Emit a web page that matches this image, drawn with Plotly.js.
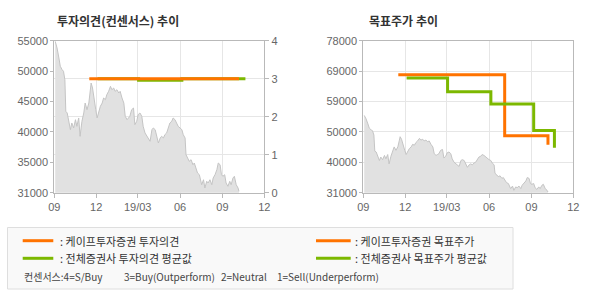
<!DOCTYPE html>
<html>
<head>
<meta charset="utf-8">
<script src="https://cdn.plot.ly/plotly-3.0.1.min.js"></script>
<style>
  html, body { margin: 0; padding: 0; background: #ffffff; }
  #chart { width: 590px; height: 300px; }
</style>
</head>
<body>
<div id="chart"></div>
<script>
// ---------------- DATA ----------------
const priceDates = [
  '2018-09-03','2018-09-07','2018-09-11','2018-09-14','2018-09-18','2018-09-21','2018-09-24','2018-09-26','2018-09-29',
  '2018-10-02','2018-10-06','2018-10-09','2018-10-13','2018-10-17','2018-10-20','2018-10-24','2018-10-27','2018-10-31',
  '2018-11-04','2018-11-07','2018-11-11','2018-11-15','2018-11-18','2018-11-20','2018-11-23','2018-11-27','2018-11-30',
  '2018-12-03','2018-12-06','2018-12-10','2018-12-14','2018-12-17','2018-12-21','2018-12-24','2018-12-28',
  '2019-01-01','2019-01-04','2019-01-08','2019-01-11','2019-01-15','2019-01-19','2019-01-22','2019-01-26','2019-01-30',
  '2019-02-02','2019-02-06','2019-02-09','2019-02-12','2019-02-16','2019-02-20','2019-02-23','2019-02-27',
  '2019-03-02','2019-03-06','2019-03-10','2019-03-13','2019-03-17','2019-03-21','2019-03-24','2019-03-28',
  '2019-04-01','2019-04-04','2019-04-08','2019-04-11','2019-04-15','2019-04-19','2019-04-22','2019-04-26','2019-04-29',
  '2019-05-03','2019-05-07','2019-05-10','2019-05-14','2019-05-17','2019-05-21','2019-05-25','2019-05-28',
  '2019-06-01','2019-06-05','2019-06-08','2019-06-12','2019-06-14','2019-06-18','2019-06-21','2019-06-25','2019-06-29',
  '2019-07-02','2019-07-06','2019-07-09','2019-07-13','2019-07-18','2019-07-22','2019-07-25','2019-07-29',
  '2019-08-01','2019-08-05','2019-08-09','2019-08-12','2019-08-16','2019-08-20','2019-08-23','2019-08-27','2019-08-30',
  '2019-09-02','2019-09-06','2019-09-09','2019-09-13','2019-09-17','2019-09-20','2019-09-24','2019-09-27',
  '2019-10-01','2019-10-05','2019-10-07'
];
const priceValues = [
  54900,53850,52270,50960,50420,50170,48840,43850,43590,
  42270,40950,42010,41220,42530,41480,42800,39900,42270,
  43590,45160,44110,45160,47010,48320,47530,45160,44110,
  42800,43590,44640,45160,45950,45690,46470,47010,
  47800,47260,47530,47010,47260,46740,47010,45950,45160,
  43060,42530,42800,43060,44110,44370,41740,42270,
  43320,43590,43060,41480,40430,39900,39640,39120,
  40950,41220,40950,40160,38850,39640,39900,39640,40160,
  40430,41480,42010,42270,42800,42530,42010,41480,
  41220,40950,40160,39640,37000,36480,35960,36210,35420,
  35690,34630,34110,33840,32260,33050,31740,32800,
  32530,33050,32260,33320,33840,34630,35690,35420,33840,
  33590,33840,32530,32010,32800,32260,33320,33590,
  32260,31740,31220
];

// Investment opinion (consensus score, 4=S/Buy ... 1=Sell)
const opinionKapeDates  = ['2018-11-16','2019-10-07'];
const opinionKapeValues = [3, 3];
const opinionAvgDates   = ['2018-12-04','2019-03-03','2019-06-05','2019-10-21'];
const opinionAvgValues  = [3, 2.96, 3, 3];

// Target price
const targetKapeDates  = ['2018-11-16','2019-07-05','2019-10-07'];
const targetKapeValues = [67500, 48600, 45800];
const targetAvgDates   = ['2018-12-04','2019-03-03','2019-06-05','2019-09-06','2019-10-21'];
const targetAvgValues  = [66500, 62200, 58400, 50200, 44900];

// Tick labels
const xTickVals  = ['2018-09-01','2018-12-01','2019-03-01','2019-06-01','2019-09-01','2019-12-01'];
const xTickText  = ['09','12','19/03','06','09','12'];
const leftPriceTickVals  = [31000,35800,40600,45400,50200,55000];
const leftPriceTickText  = ['31000','35000','40000','45000','50000','55000'];
const opinionTickVals    = [0,1,2,3,4];
const rightPriceTickVals = [31000,40400,49800,59200,68600,78000];
const rightPriceTickText = ['31000','40000','50000','59000','69000','78000'];

// ---------------- STYLE ----------------
const W = 590, H = 300;
const px = v => v / W;
const py = v => 1 - v / H;
const ORANGE = '#ff7300';
const GREEN  = '#7cb800';
const FRAME  = '#b9b9b9';
const GRID   = '#e6e6e6';
const TICKFONT = {family: 'Liberation Sans, Arial, sans-serif', size: 11, color: '#666666'};
const KFONT = "'Noto Sans CJK KR', 'Liberation Sans', sans-serif";

const priceStyle = {
  type: 'scatter', mode: 'lines', fill: 'tozeroy',
  line: {color: '#c4c4c4', width: 1}, fillcolor: '#e1e1e1', hoverinfo: 'skip', showlegend: false
};

const traces = [
  Object.assign({x: priceDates, y: priceValues, xaxis: 'x', yaxis: 'y'}, priceStyle),
  {x: opinionAvgDates, y: opinionAvgValues, xaxis: 'x', yaxis: 'y2', type: 'scatter', mode: 'lines',
   line: {color: GREEN, width: 3, shape: 'hv'}, showlegend: false},
  {x: opinionKapeDates, y: opinionKapeValues, xaxis: 'x', yaxis: 'y2', type: 'scatter', mode: 'lines',
   line: {color: ORANGE, width: 3, shape: 'hv'}, showlegend: false},
  Object.assign({x: priceDates, y: priceValues, xaxis: 'x2', yaxis: 'y3'}, priceStyle),
  {x: targetKapeDates, y: targetKapeValues, xaxis: 'x2', yaxis: 'y3', type: 'scatter', mode: 'lines',
   line: {color: ORANGE, width: 3, shape: 'hv'}, showlegend: false},
  {x: targetAvgDates, y: targetAvgValues, xaxis: 'x2', yaxis: 'y3', type: 'scatter', mode: 'lines',
   line: {color: GREEN, width: 3, shape: 'hv'}, showlegend: false}
];

const yDomain = [py(192.7), py(40.7)];
const xAxisCommon = {
  type: 'date', range: ['2018-09-01','2019-12-01'],
  tickmode: 'array', tickvals: xTickVals, ticktext: xTickText,
  showgrid: true, gridcolor: GRID, gridwidth: 1,
  showline: true, linecolor: FRAME, linewidth: 1, mirror: true,
  ticks: 'outside', ticklen: 4, tickcolor: FRAME,
  tickfont: TICKFONT, zeroline: false, fixedrange: true
};

const layout = {
  width: W, height: H,
  margin: {l: 0, r: 0, t: 0, b: 0},
  paper_bgcolor: '#ffffff', plot_bgcolor: '#ffffff',
  showlegend: false, hovermode: false,
  font: {family: KFONT, color: '#333333'},
  xaxis: Object.assign({}, xAxisCommon, {domain: [px(54.3), px(264.3)], anchor: 'y'}),
  xaxis2: Object.assign({}, xAxisCommon, {domain: [px(363.3), px(573.3)], anchor: 'y3'}),
  yaxis: {
    domain: yDomain, anchor: 'x', range: [31000, 55000],
    tickmode: 'array', tickvals: leftPriceTickVals, ticktext: leftPriceTickText,
    showgrid: false, zeroline: false,
    showline: true, linecolor: FRAME, linewidth: 1, mirror: true,
    ticks: 'outside', ticklen: 3, tickcolor: FRAME, tickfont: TICKFONT, fixedrange: true
  },
  yaxis2: {
    overlaying: 'y', side: 'right', anchor: 'x', range: [0, 4],
    tickmode: 'array', tickvals: opinionTickVals,
    showgrid: true, gridcolor: GRID, gridwidth: 1, zeroline: false,
    showline: false,
    ticks: 'outside', ticklen: 4, tickcolor: FRAME, tickfont: TICKFONT, fixedrange: true
  },
  yaxis3: {
    domain: yDomain, anchor: 'x2', range: [31000, 78000],
    tickmode: 'array', tickvals: rightPriceTickVals, ticktext: rightPriceTickText,
    showgrid: true, gridcolor: GRID, gridwidth: 1, zeroline: false,
    showline: true, linecolor: FRAME, linewidth: 1, mirror: true,
    ticks: 'outside', ticklen: 3, tickcolor: FRAME, tickfont: TICKFONT, fixedrange: true
  },
  shapes: [
    {type: 'rect', xref: 'paper', yref: 'paper', x0: px(7.5), x1: px(513), y0: py(289), y1: py(227.5),
     fillcolor: '#f9f9f9', line: {color: '#dedede', width: 1}, layer: 'below'},
    {type: 'line', xref: 'paper', yref: 'paper', x0: px(22.7), x1: px(53.3), y0: py(240.7), y1: py(240.7),
     line: {color: ORANGE, width: 3}},
    {type: 'line', xref: 'paper', yref: 'paper', x0: px(22.7), x1: px(53.3), y0: py(258.3), y1: py(258.3),
     line: {color: GREEN, width: 3}},
    {type: 'line', xref: 'paper', yref: 'paper', x0: px(316), x1: px(350.7), y0: py(240.7), y1: py(240.7),
     line: {color: ORANGE, width: 3}},
    {type: 'line', xref: 'paper', yref: 'paper', x0: px(316), x1: px(350.7), y0: py(258.3), y1: py(258.3),
     line: {color: GREEN, width: 3}}
  ],
  annotations: [
    {text: '<b>투자의견(컨센서스) 추이</b>', xref: 'paper', yref: 'paper', x: px(54.5), y: py(20.7),
     xanchor: 'left', yanchor: 'middle', showarrow: false, font: {family: KFONT, size: 12, color: '#333333'}},
    {text: '<b>목표주가 추이</b>', xref: 'paper', yref: 'paper', x: px(366.5), y: py(20.7),
     xanchor: 'left', yanchor: 'middle', showarrow: false, font: {family: KFONT, size: 12, color: '#333333'}},
    {text: ': 케이프투자증권 투자의견', xref: 'paper', yref: 'paper', x: px(58), y: py(240.7),
     xanchor: 'left', yanchor: 'middle', showarrow: false, font: {family: KFONT, size: 11, color: '#333333'}},
    {text: ': 전체증권사 투자의견 평균값', xref: 'paper', yref: 'paper', x: px(58), y: py(258.3),
     xanchor: 'left', yanchor: 'middle', showarrow: false, font: {family: KFONT, size: 11, color: '#333333'}},
    {text: ': 케이프투자증권 목표주가', xref: 'paper', yref: 'paper', x: px(352.5), y: py(240.7),
     xanchor: 'left', yanchor: 'middle', showarrow: false, font: {family: KFONT, size: 11, color: '#333333'}},
    {text: ': 전체증권사 목표주가 평균값', xref: 'paper', yref: 'paper', x: px(352.5), y: py(258.3),
     xanchor: 'left', yanchor: 'middle', showarrow: false, font: {family: KFONT, size: 11, color: '#333333'}},
    {text: '컨센서스:4=S/Buy', xref: 'paper', yref: 'paper', x: px(21.5), y: py(276.7),
     xanchor: 'left', yanchor: 'middle', showarrow: false, font: {family: KFONT, size: 10, color: '#444444'}},
    {text: '3=Buy(Outperform)', xref: 'paper', yref: 'paper', x: px(121.5), y: py(276.7),
     xanchor: 'left', yanchor: 'middle', showarrow: false, font: {family: KFONT, size: 10, color: '#444444'}},
    {text: '2=Neutral', xref: 'paper', yref: 'paper', x: px(219.3), y: py(276.7),
     xanchor: 'left', yanchor: 'middle', showarrow: false, font: {family: KFONT, size: 10, color: '#444444'}},
    {text: '1=Sell(Underperform)', xref: 'paper', yref: 'paper', x: px(275), y: py(276.7),
     xanchor: 'left', yanchor: 'middle', showarrow: false, font: {family: KFONT, size: 10, color: '#444444'}}
  ]
};

Plotly.newPlot('chart', traces, layout, {displayModeBar: false, staticPlot: true});
</script>
</body>
</html>
